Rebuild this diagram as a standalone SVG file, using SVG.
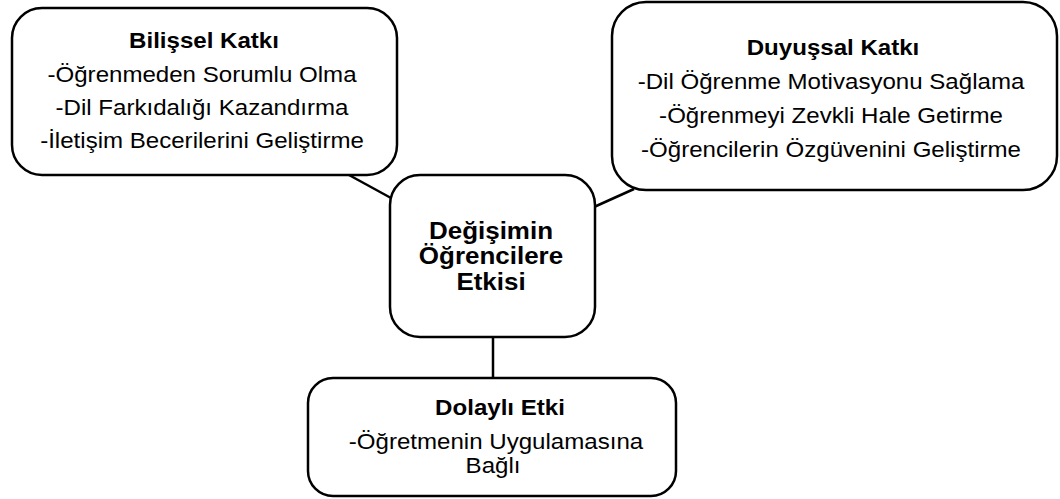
<svg xmlns="http://www.w3.org/2000/svg" width="1060" height="499" viewBox="0 0 1060 499">
<style>
.box{fill:#fff;stroke:#000;stroke-width:2.5}
.ln{stroke:#000;stroke-width:2.5;fill:none}
text{font-family:"Liberation Sans",Arial,sans-serif;text-anchor:middle;fill:#000}
.t{font-size:22.5px;font-weight:bold}
.b{font-size:22.5px}
.c{font-size:24.5px;font-weight:bold}
</style>
<rect width="1060" height="499" fill="#fff"/>
<g id="connectors">
<line class="ln" x1="349" y1="175" x2="391" y2="198"/>
<line class="ln" x1="594" y1="207" x2="634" y2="189"/>
<line class="ln" x1="493" y1="337" x2="493" y2="378"/>
</g>
<g id="bilissel">
<rect class="box" x="12" y="8" width="385" height="167" rx="30"/>
<text class="t" transform="translate(204,48) scale(1.07,1)">Bilişsel Katkı</text>
<text class="b" transform="translate(202,82) scale(1.07,1)">-Öğrenmeden Sorumlu Olma</text>
<text class="b" transform="translate(202,115) scale(1.07,1)">-Dil Farkıdalığı Kazandırma</text>
<text class="b" transform="translate(202,148) scale(1.07,1)">-İletişim Becerilerini Geliştirme</text>
</g>
<g id="duyussal">
<rect class="box" x="612" y="2" width="445" height="188" rx="34"/>
<text class="t" transform="translate(833,55) scale(1.07,1)">Duyuşsal Katkı</text>
<text class="b" transform="translate(831,89) scale(1.07,1)">-Dil Öğrenme Motivasyonu Sağlama</text>
<text class="b" transform="translate(831,123) scale(1.07,1)">-Öğrenmeyi Zevkli Hale Getirme</text>
<text class="b" transform="translate(831,157) scale(1.07,1)">-Öğrencilerin Özgüvenini Geliştirme</text>
</g>
<g id="merkez">
<rect class="box" x="390" y="175" width="205" height="162" rx="30"/>
<text class="c" transform="translate(491,239) scale(1.06,1)">Değişimin</text>
<text class="c" transform="translate(491,264) scale(1.06,1)">Öğrencilere</text>
<text class="c" transform="translate(491,290) scale(1.06,1)">Etkisi</text>
</g>
<g id="dolayli">
<rect class="box" x="308" y="378" width="368" height="118" rx="25"/>
<text class="t" transform="translate(500,415) scale(1.07,1)">Dolaylı Etki</text>
<text class="b" transform="translate(496,449) scale(1.07,1)">-Öğretmenin Uygulamasına</text>
<text class="b" transform="translate(493,473) scale(1.07,1)">Bağlı</text>
</g>
</svg>
